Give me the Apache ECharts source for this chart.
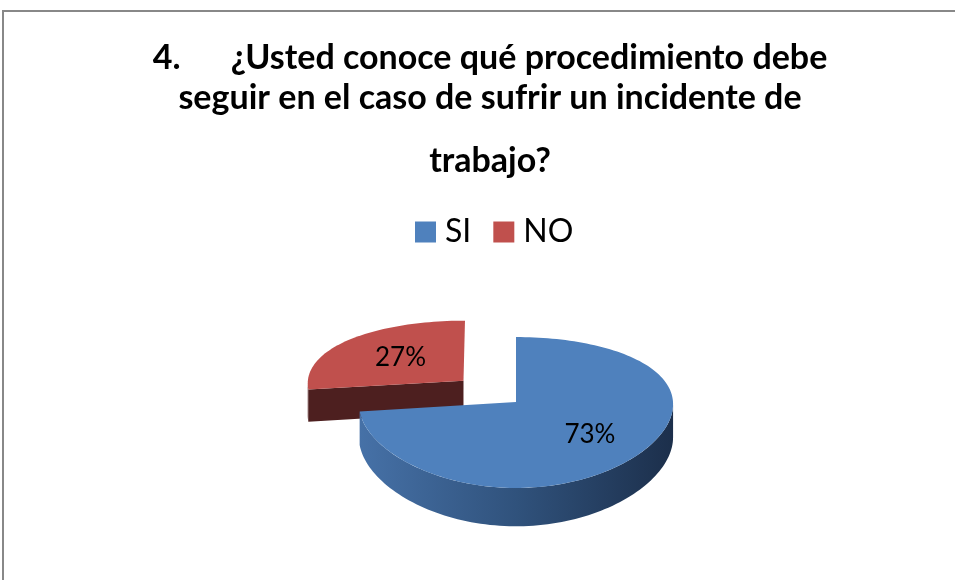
<!DOCTYPE html>
<html>
<head>
<meta charset="utf-8">
<script src="https://cdn.jsdelivr.net/npm/echarts@6/dist/echarts.min.js"></script>
<style>
html, body { margin: 0; padding: 0; background: #fff; }
#main { width: 955px; height: 580px; }
</style>
</head>
<body>
<div id="main"></div>
<script>
var categories = ['SI', 'NO'];
var values = [73, 27];
var pctLabels = ['73%', '27%'];
var topColors = ['#4F81BD', '#C0504D'];
var wallColors = [['#4671a7', '#30527c', '#1c2f4b'], ['#551f1f', '#4d1d1d', '#4a1c1c']];
var cutColors = ['#27405f', '#4d1f1f'];
var explode = [0, 0.45];
var labelRadius = [0.62, 0.55];

var myChart = echarts.init(document.getElementById('main'));

// pie geometry: unit circle on the ground seen in perspective
var cx = 516, cy = 402, rx = 157, ky = 74, depth = 33;
var perspX = 0.03, perspY = 0.139;
var total = values.reduce(function (a, b) { return a + b; }, 0);
var FONT = 'Lato, "Open Sans", sans-serif';

// u to the right, v toward the viewer, h downward (pixels)
function proj(u, v, h) {
  var sx = 1 / (1 - perspX * v), sy = 1 / (1 - perspY * v);
  return [cx + rx * u * sx, cy + (ky * v + (h || 0)) * sy];
}

function rim(u0, v0, a, h) {
  return proj(u0 + Math.sin(a), v0 - Math.cos(a), h);
}

function arcPts(u0, v0, a0, a1, h) {
  var n = Math.max(2, Math.ceil((a1 - a0) / 0.03));
  var out = [];
  for (var i = 0; i <= n; i++) out.push(rim(u0, v0, a0 + (a1 - a0) * i / n, h));
  return out;
}

function renderSlice(params, api) {
  var i = params.dataIndex;
  var before = 0;
  for (var k = 0; k < i; k++) before += values[k];
  var a0 = before / total * 2 * Math.PI;
  var a1 = (before + api.value(0)) / total * 2 * Math.PI;
  var mid = (a0 + a1) / 2;
  var u0 = Math.sin(mid) * explode[i];
  var v0 = -Math.cos(mid) * explode[i];
  var base = Math.round((1 - Math.cos(mid)) * 10) * 10;
  var c0 = proj(u0, v0, 0), c1 = proj(u0, v0, depth);
  var children = [];

  // outer wall between the two silhouette lines
  var sil = Math.acos(-perspX);
  var s = Math.max(a0, sil), e = Math.min(a1, 2 * Math.PI - sil);
  if (e > s) {
    var top = arcPts(u0, v0, s, e, 0);
    var bot = arcPts(u0, v0, s, e, depth).reverse();
    children.push({
      type: 'polygon', z2: base + 1,
      shape: { points: top.concat(bot) },
      style: {
        fill: new echarts.graphic.LinearGradient(0, 0, 1, 0, [
          { offset: 0, color: wallColors[i][0] },
          { offset: 0.5, color: wallColors[i][1] },
          { offset: 1, color: wallColors[i][2] }
        ])
      }
    });
  }

  // cut faces facing the viewer
  [[a0, Math.sin(a0) < -1e-6], [a1, Math.sin(a1) > 1e-6]].forEach(function (c) {
    if (!c[1]) return;
    children.push({
      type: 'polygon', z2: base + 1,
      shape: { points: [c0, rim(u0, v0, c[0], 0), rim(u0, v0, c[0], depth), c1] },
      style: { fill: cutColors[i] }
    });
  });

  // top face
  children.push({
    type: 'polygon', z2: base + 2,
    shape: { points: [c0].concat(arcPts(u0, v0, a0, a1, 0)) },
    style: { fill: topColors[i] }
  });

  // label
  var lr = labelRadius[i];
  var lp = proj(u0 + lr * Math.sin(mid), v0 - lr * Math.cos(mid), 0);
  children.push({
    type: 'text', z2: base + 3,
    x: lp[0], y: lp[1],
    style: {
      text: pctLabels[i], fill: '#000', fontSize: 26, fontFamily: FONT,
      align: 'center', verticalAlign: 'middle'
    }
  });

  return { type: 'group', children: children };
}

var option = {
  color: topColors,
  title: [
    {
      text: '4.\u2003   ¿Usted conoce qué procedimiento debe\nseguir en el caso de sufrir un incidente de',
      left: 485, top: 33, textAlign: 'center',
      textStyle: { fontSize: 34, fontWeight: 'bold', color: '#000', fontFamily: FONT, lineHeight: 40 }
    },
    {
      text: 'trabajo?',
      left: 485, top: 136, textAlign: 'center',
      textStyle: { fontSize: 34, fontWeight: 'bold', color: '#000', fontFamily: FONT, lineHeight: 40 }
    }
  ],
  legend: {
    data: categories,
    left: 410, top: 211,
    icon: 'rect', itemWidth: 21, itemHeight: 21, itemGap: 22,
    textStyle: { fontSize: 32, color: '#000', fontFamily: FONT, padding: [0, 0, 0, 4] },
    selectedMode: false
  },
  graphic: [{
    type: 'rect', silent: true, z: -1,
    shape: { x: 3, y: 11, width: 1000, height: 1000 },
    style: { fill: 'none', stroke: '#888', lineWidth: 2 }
  }],
  series: [
    {
      // carries the legend entries
      type: 'pie', radius: [0, 0], silent: true,
      label: { show: false }, labelLine: { show: false },
      data: categories.map(function (c, i) { return { name: c, value: values[i] }; })
    },
    {
      type: 'custom', coordinateSystem: 'none',
      renderItem: renderSlice,
      data: values.map(function (v) { return [v]; })
    }
  ]
};

myChart.setOption(option);
</script>
</body>
</html>
